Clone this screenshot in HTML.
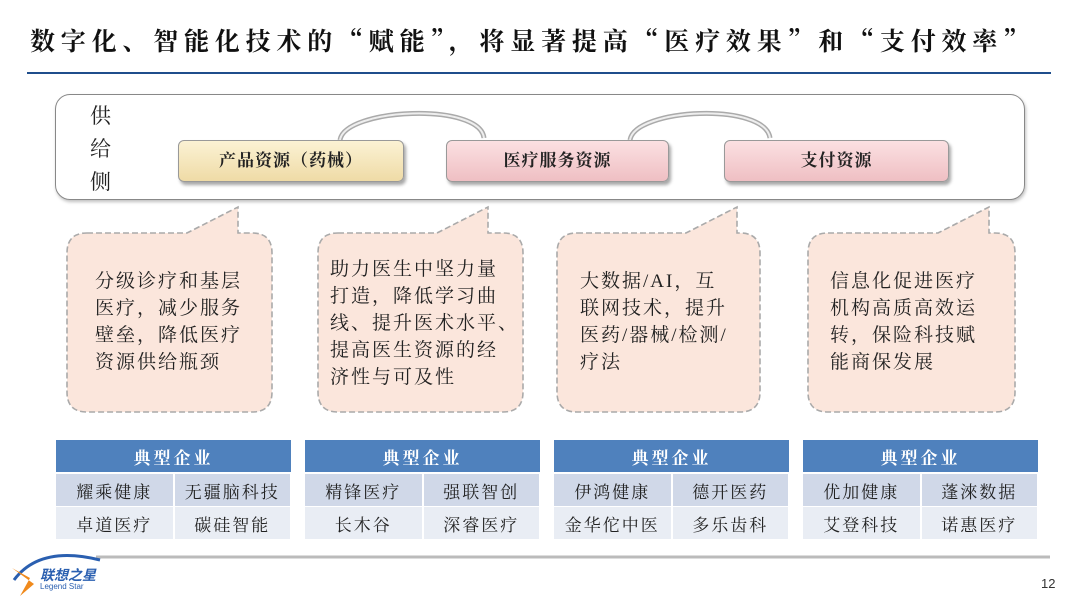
<!DOCTYPE html>
<html><head><meta charset="utf-8"><style>
body{margin:0;width:1080px;height:608px;background:#fff;position:relative;overflow:hidden;font-family:"Liberation Serif","Noto Serif CJK SC",serif;}
.abs{position:absolute}
.title{left:30px;top:22px;font-family:"Noto Serif CJK SC",serif;font-size:25px;font-weight:bold;letter-spacing:5.8px;color:#111;white-space:nowrap}
.pill{position:absolute;top:140px;height:40px;border-radius:6px;border:1px solid #999;box-shadow:2px 3px 3px rgba(0,0,0,.35);text-align:center;line-height:40px;font-size:17px;font-weight:bold;color:#222;letter-spacing:1px}
.bt{position:absolute;font-size:19px;line-height:27px;color:#222;letter-spacing:2px}
table{position:absolute;border-collapse:collapse;width:236px;font-size:17px;top:440px}
th{background:#4f81bd;color:#fff;height:30px;font-size:17px;letter-spacing:3px;border-bottom:2px solid #fff}
td{height:30px;text-align:center;color:#222;width:50%;border-right:2px solid #fff;letter-spacing:2px}
tr.a td{background:#d0d8e8;border-bottom:1px solid #fff}
tr.b td{background:#e9edf4}
</style></head><body>
<div class="abs title">数字化、智能化技术的“赋能”，将显著提高“医疗效果”和“支付效率”</div>
<div class="abs" style="left:27px;top:72px;width:1024px;height:2px;background:#1f4e8c"></div>
<div class="abs" style="left:55px;top:94px;width:968px;height:104px;border:1px solid #888;border-radius:15px;box-shadow:1px 2px 3px rgba(0,0,0,.25)"></div>
<div class="abs" style="left:90px;top:100px;font-size:21px;line-height:33px;color:#222">供<br>给<br>侧</div>
<svg class="abs" style="left:0;top:0" width="1080" height="608">
<path d="M340 140 C345 108,480 102,484 138" fill="none" stroke="#aaa" stroke-width="5"/>
<path d="M340 140 C345 108,480 102,484 138" fill="none" stroke="#eee" stroke-width="2"/>
<path d="M630 140 C635 108,765 102,770 138" fill="none" stroke="#aaa" stroke-width="5"/>
<path d="M630 140 C635 108,765 102,770 138" fill="none" stroke="#eee" stroke-width="2"/>
<g fill="#fbe6dc" stroke="#aaa" stroke-width="1.6" stroke-dasharray="6,3">
<path d="M87 233 H187 L238 207 V233 H252 Q272 233 272 253 V392 Q272 412 252 412 H87 Q67 412 67 392 V253 Q67 233 87 233Z"/>
<path d="M338 233 H437 L488 207 V233 H503 Q523 233 523 253 V392 Q523 412 503 412 H338 Q318 412 318 392 V253 Q318 233 338 233Z"/>
<path d="M577 233 H686 L737 207 V233 H740 Q760 233 760 253 V392 Q760 412 740 412 H577 Q557 412 557 392 V253 Q557 233 577 233Z"/>
<path d="M828 233 H938 L989 207 V233 H995 Q1015 233 1015 253 V392 Q1015 412 995 412 H828 Q808 412 808 392 V253 Q808 233 828 233Z"/>
</g>
<line x1="96" y1="557" x2="1050" y2="557" stroke="#bbb" stroke-width="3"/>
<path d="M14 580 Q40 545 100 560" fill="none" stroke="#2a5fb0" stroke-width="3"/>
<path d="M12 568 L30 578 L20 596 L34 584 Z" fill="#f08a1c"/>
</svg>
<div class="pill" style="left:178px;width:224px;background:linear-gradient(#fbf2d4,#efdba6)">产品资源（药械）</div>
<div class="pill" style="left:446px;width:221px;background:linear-gradient(#fbe0e2,#efbfc3)">医疗服务资源</div>
<div class="pill" style="left:724px;width:223px;background:linear-gradient(#fbe0e2,#efbfc3)">支付资源</div>
<div class="bt" style="left:95px;top:268px">分级诊疗和基层<br>医疗，减少服务<br>壁垒，降低医疗<br>资源供给瓶颈</div>
<div class="bt" style="left:330px;top:256px">助力医生中坚力量<br>打造，降低学习曲<br>线、提升医术水平、<br>提高医生资源的经<br>济性与可及性</div>
<div class="bt" style="left:580px;top:268px">大数据/AI，互<br>联网技术，提升<br>医药/器械/检测/<br>疗法</div>
<div class="bt" style="left:830px;top:268px">信息化促进医疗<br>机构高质高效运<br>转，保险科技赋<br>能商保发展</div>
<table style="left:56px"><tr><th colspan="2">典型企业</th></tr><tr class="a"><td>耀乘健康</td><td>无疆脑科技</td></tr><tr class="b"><td>卓道医疗</td><td>碳硅智能</td></tr></table>
<table style="left:305px"><tr><th colspan="2">典型企业</th></tr><tr class="a"><td>精锋医疗</td><td>强联智创</td></tr><tr class="b"><td>长木谷</td><td>深睿医疗</td></tr></table>
<table style="left:554px"><tr><th colspan="2">典型企业</th></tr><tr class="a"><td>伊鸿健康</td><td>德开医药</td></tr><tr class="b"><td>金华佗中医</td><td>多乐齿科</td></tr></table>
<table style="left:803px"><tr><th colspan="2">典型企业</th></tr><tr class="a"><td>优加健康</td><td>蓬淶数据</td></tr><tr class="b"><td>艾登科技</td><td>诺惠医疗</td></tr></table>
<div class="abs" style="left:40px;top:565px;font:bold italic 14px 'Liberation Sans','Noto Sans CJK SC',sans-serif;color:#2a5fb0">联想之星</div>
<div class="abs" style="left:40px;top:582px;font:8px 'Liberation Sans',sans-serif;color:#2a5fb0">Legend Star</div>
<div class="abs" style="left:1041px;top:576px;font:13px 'Liberation Sans',sans-serif;color:#333">12</div>
</body></html>
